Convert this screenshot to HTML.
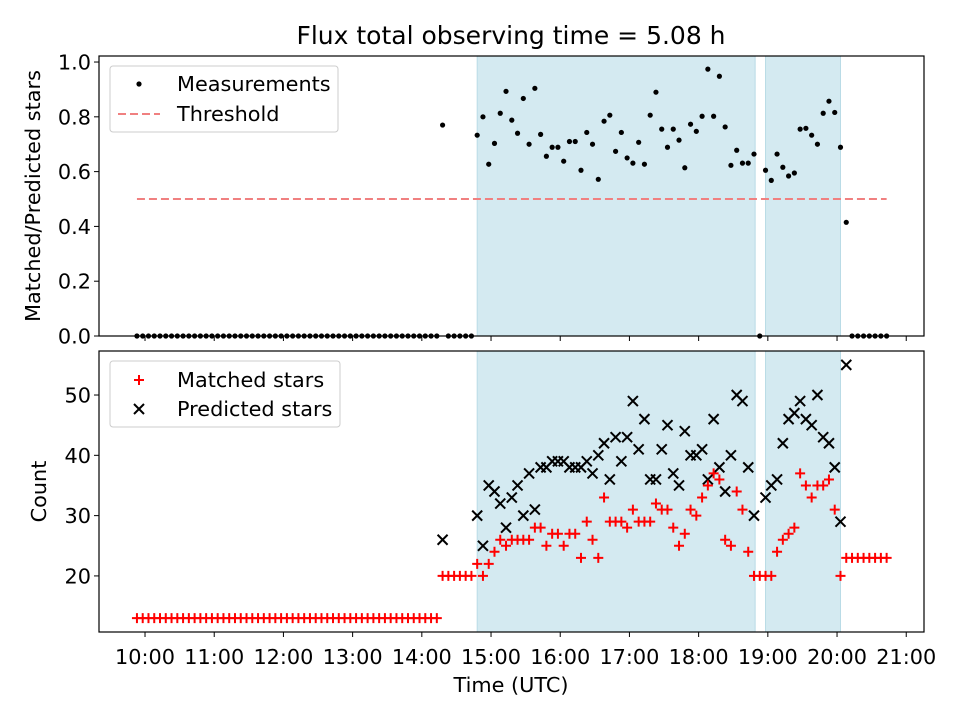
<!DOCTYPE html>
<html><head><meta charset="utf-8"><style>
body{margin:0;background:#fff;}
svg text{font-family:"DejaVu Sans","Liberation Sans",sans-serif;fill:#000;}
</style></head><body>
<svg id="chart" width="960" height="720" viewBox="0 0 960 720" xmlns="http://www.w3.org/2000/svg"></svg>
<script>
// ---- data ----
const times = [593,598,603,608,613,618,623,628,633,638,643,648,653,658,663,668,673,678,683,688,693,698,703,708,713,718,723,728,733,738,743,748,753,758,763,768,773,778,783,788,793,798,803,808,813,818,823,828,833,838,843,848,853,
858,863,868,873,878,883,
888,893,898,903,908,913,918,923,928,933,938,943,948,953,958,963,968,973,978,983,988,993,998,1003,1008,1013,1018,1023,1028,1033,1038,1043,1048,1053,1058,1063,1068,1073,1078,1083,1088,1093,1098,1103,1108,1113,1118,1123,1128,1133,1138,1143,1148,1153,1158,1163,1168,1173,1178,1183,1188,1193,1198,1203,1208,
1213,1218,1223,1228,1233,1238,1243];
const matched = [13,13,13,13,13,13,13,13,13,13,13,13,13,13,13,13,13,13,13,13,13,13,13,13,13,13,13,13,13,13,13,13,13,13,13,13,13,13,13,13,13,13,13,13,13,13,13,13,13,13,13,13,13,
20,20,20,20,20,20,
22,20,22,24,26,25,26,26,26,26,28,28,25,27,27,25,27,27,23,29,26,23,33,29,29,29,28,31,29,29,29,32,31,31,28,25,27,31,30,33,35,37,36,26,25,34,31,24,20,20,20,20,24,26,27,28,37,35,33,35,35,36,31,20,23,
23,23,23,23,23,23,23];
const predicted = [null,null,null,null,null,null,null,null,null,null,null,null,null,null,null,null,null,null,null,null,null,null,null,null,null,null,null,null,null,null,null,null,null,null,null,null,null,null,null,null,null,null,null,null,null,null,null,null,null,null,null,null,null,
26,null,null,null,null,null,
30,25,35,34,32,28,33,35,30,37,31,38,38,39,39,39,38,38,38,39,37,40,42,36,43,39,43,49,41,46,36,36,41,45,37,35,44,40,40,41,36,46,38,34,40,50,49,38,30,null,33,35,36,42,46,47,49,46,45,50,43,42,38,29,55,
null,null,null,null,null,null,null];
const ratio = [0,0,0,0,0,0,0,0,0,0,0,0,0,0,0,0,0,0,0,0,0,0,0,0,0,0,0,0,0,0,0,0,0,0,0,0,0,0,0,0,0,0,0,0,0,0,0,0,0,0,0,0,0,
0.77,0,0,0,0,0,
0.733,0.80,0.627,0.703,0.813,0.893,0.788,0.74,0.867,0.70,0.904,0.736,0.656,0.689,0.689,0.638,0.71,0.71,0.605,0.743,0.70,0.572,0.784,0.806,0.674,0.743,0.65,0.631,0.707,0.627,0.806,0.89,0.755,0.689,0.755,0.715,0.614,0.773,0.747,0.802,0.974,0.802,0.948,0.763,0.623,0.678,0.631,0.631,0.664,0,0.605,0.568,0.664,0.616,0.584,0.595,0.755,0.758,0.733,0.70,0.813,0.857,0.816,0.689,0.415,
0,0,0,0,0,0,0];
const shadeStart = [888,1138];
const shadeEnd = [1129,1203];
const threshold = 0.5;
const xTickMinutes = [600,660,720,780,840,900,960,1020,1080,1140,1200,1260];
const xTickLabels = ["10:00","11:00","12:00","13:00","14:00","15:00","16:00","17:00","18:00","19:00","20:00","21:00"];
const topTicks = [0,0.2,0.4,0.6,0.8,1.0];
const botTicks = [20,30,40,50];

// ---- layout ----
const NS="http://www.w3.org/2000/svg";
const svg=document.getElementById('chart');
const L=99,R=924,T1=56,B1=336,T2=351,B2=632;
const xMin=560.1,xMax=1275.4;
const X=m=>L+(m-xMin)/(xMax-xMin)*(R-L);
const y1Min=0,y1Max=1.022;
const Y1=v=>B1-(v-y1Min)/(y1Max-y1Min)*(B1-T1);
const y2Min=10.7,y2Max=57.3;
const Y2=v=>B2-(v-y2Min)/(y2Max-y2Min)*(B2-T2);
function mk(tag,attrs,parent){const e=document.createElementNS(NS,tag);for(const k in attrs)e.setAttribute(k,attrs[k]);(parent||svg).appendChild(e);return e;}
const FS='20.8';

// title
const title=mk('text',{x:511,y:44,'text-anchor':'middle','font-size':'25'});
title.textContent='Flux total observing time = 5.08 h';



function panel(top,bot,Yf,ticks,fmt,name){
  const g=mk('g',{});
  
  
  for(let i=0;i<shadeStart.length;i++){
    const r=mk('rect',{x:X(shadeStart[i]),y:top,width:X(shadeEnd[i])-X(shadeStart[i]),height:bot-top,fill:'#d4eaf1',stroke:'#b9dbe6','stroke-width':1},g);
    
    
  }
  ticks.forEach(t=>{
    const y=Yf(t);
    mk('line',{x1:L-5,x2:L,y1:y,y2:y,stroke:'#000','stroke-width':1},g);
    const tx=mk('text',{x:L-8,y:y+7.5,'text-anchor':'end','font-size':FS},g);
    tx.textContent=fmt(t);
    
    
  });
  xTickMinutes.forEach(m=>{mk('line',{x1:X(m),x2:X(m),y1:bot,y2:bot+5,stroke:'#000','stroke-width':1},g);});
  return g;
}
const gTop=panel(T1,B1,Y1,topTicks,v=>v.toFixed(1),'top-panel');
const gBot=panel(T2,B2,Y2,botTicks,v=>String(v),'bottom-panel');

// threshold
const thr=mk('line',{x1:X(times[0]),x2:X(times[times.length-1]),y1:Y1(threshold),y2:Y1(threshold),stroke:'#f08080','stroke-width':2,'stroke-dasharray':'8,4'},gTop);



// measurements
times.forEach((m,i)=>{
  const c=mk('circle',{cx:X(m),cy:Y1(ratio[i]),r:2.6,fill:'#000'},gTop);
  
  
});
// predicted
times.forEach((m,i)=>{
  if(predicted[i]!==null){
    const x=X(m),y=Y2(predicted[i]),s=5;
    const p=mk('path',{d:`M${x-s},${y-s}L${x+s},${y+s}M${x-s},${y+s}L${x+s},${y-s}`,stroke:'#000','stroke-width':2,fill:'none'},gBot);
    
    
  }
});
// matched
times.forEach((m,i)=>{
  const x=X(m),y=Y2(matched[i]),s=5;
  const p=mk('path',{d:`M${x-s},${y}L${x+s},${y}M${x},${y-s}L${x},${y+s}`,stroke:'#ff0000','stroke-width':2,fill:'none'},gBot);
  
  
});

// frames
[[T1,B1],[T2,B2]].forEach(([t,b])=>{
  const r=mk('rect',{x:L,y:t,width:R-L,height:b-t,fill:'none',stroke:'#000','stroke-width':1.2});
  
  
});

// x tick labels
xTickMinutes.forEach((m,i)=>{
  const t=mk('text',{x:X(m),y:B2+32,'text-anchor':'middle','font-size':FS});
  t.textContent=xTickLabels[i];
  
  
});
const xl=mk('text',{x:511,y:692,'text-anchor':'middle','font-size':FS});
xl.textContent='Time (UTC)';


const yl1=mk('text',{x:0,y:0,'text-anchor':'middle','font-size':FS,transform:`translate(40,${(T1+B1)/2}) rotate(-90)`});
yl1.textContent='Matched/Predicted stars';


const yl2=mk('text',{x:0,y:0,'text-anchor':'middle','font-size':FS,transform:`translate(46,${(T2+B2)/2}) rotate(-90)`});
yl2.textContent='Count';



// legends
const lg1=mk('g',{});


mk('rect',{x:110,y:66,width:228,height:66,rx:3,fill:'#fff','fill-opacity':0.85,stroke:'#ccc'},lg1);
mk('circle',{cx:139,cy:84,r:2.6,fill:'#000'},lg1);
const t1=mk('text',{x:177,y:91,'font-size':FS},lg1);t1.textContent='Measurements';


mk('line',{x1:118,x2:160,y1:114,y2:114,stroke:'#f08080','stroke-width':2,'stroke-dasharray':'8,4'},lg1);
const t2=mk('text',{x:177,y:121,'font-size':FS},lg1);t2.textContent='Threshold';



const lg2=mk('g',{});


mk('rect',{x:110,y:361,width:230,height:66,rx:3,fill:'#fff','fill-opacity':0.85,stroke:'#ccc'},lg2);
mk('path',{d:'M134,380L144,380M139,375L139,385',stroke:'#ff0000','stroke-width':2},lg2);
const t3=mk('text',{x:177,y:387,'font-size':FS},lg2);t3.textContent='Matched stars';


mk('path',{d:'M134,404L144,414M134,414L144,404',stroke:'#000','stroke-width':2},lg2);
const t4=mk('text',{x:177,y:416,'font-size':FS},lg2);t4.textContent='Predicted stars';


</script>
</body></html>
